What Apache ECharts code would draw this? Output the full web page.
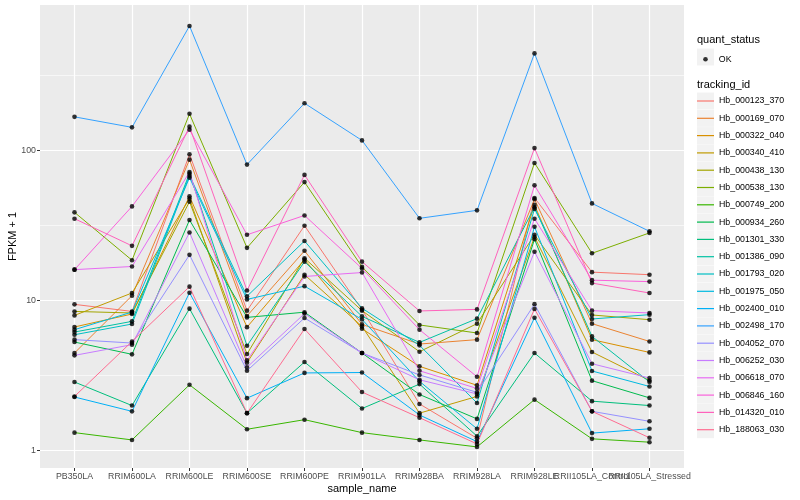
<!DOCTYPE html>
<html><head><meta charset="utf-8">
<script src="https://cdn.jsdelivr.net/npm/echarts@6/dist/echarts.min.js"></script>
<style>html,body{margin:0;padding:0;background:#fff}#c{width:800px;height:500px}</style>
</head><body><div id="c"></div>
<script>
const categories = ['PB350LA','RRIM600LA','RRIM600LE','RRIM600SE','RRIM600PE','RRIM901LA','RRIM928BA','RRIM928LA','RRIM928LE','RRII105LA_Control','RRII105LA_Stressed'];
const trackingIds = ['Hb_000123_370','Hb_000169_070','Hb_000322_040','Hb_000340_410','Hb_000438_130','Hb_000538_130','Hb_000749_200','Hb_000934_260','Hb_001301_330','Hb_001386_090','Hb_001793_020','Hb_001975_050','Hb_002400_010','Hb_002498_170','Hb_004052_070','Hb_006252_030','Hb_006618_070','Hb_006846_160','Hb_014320_010','Hb_188063_030'];
const lineColors = ['#F8766D','#EA8331','#D89000','#C09B00','#A3A500','#7CAE00','#39B600','#00BB4E','#00BF7D','#00C1A3','#00BFC4','#00BAE0','#00B0F6','#35A2FF','#9590FF','#C77CFF','#E76BF3','#FA62DB','#FF62BC','#FF6C91'];
const yTickValues = [1, 10, 100];
const yMinorValues = [3.1623, 31.623, 316.23];

// FPKM + 1 per sample (order of categories)
const Hb_000123_370 = [9.45, 8.48, 94.5, 8.58, 31.6, 8.71, 2.05, 1.21, 48.4, 15.5, 14.9];
const Hb_000169_070 = [4.48, 10.8, 87.1, 7.91, 21.5, 6.95, 5.14, 5.50, 47.5, 7.03, 5.35];
const Hb_000322_040 = [6.68, 8.15, 49.6, 6.66, 18.8, 6.5, 3.65, 2.73, 43.5, 5.50, 4.52];
const Hb_000340_410 = [7.98, 11.25, 47.9, 3.86, 14.9, 6.74, 1.78, 2.30, 26.6, 4.55, 2.94];
const Hb_000438_130 = [8.48, 8.28, 45.7, 4.41, 19.2, 8.58, 4.57, 7.03, 27.5, 8.03, 7.47];
const Hb_000538_130 = [38.8, 18.6, 176, 22.5, 61.7, 16.8, 6.89, 6.09, 82.8, 20.7, 28.3];
const Hb_000749_200 = [1.32, 1.18, 2.75, 1.39, 1.61, 1.32, 1.18, 1.06, 2.19, 1.20, 1.14];
const Hb_000934_260 = [5.30, 4.39, 34.5, 7.74, 8.38, 4.48, 2.37, 1.63, 25.7, 2.93, 2.25];
const Hb_001301_330 = [2.87, 2.00, 8.85, 1.78, 3.90, 1.91, 2.78, 1.25, 4.48, 2.14, 2.00];
const Hb_001386_090 = [6.18, 7.28, 70.5, 5.01, 18.2, 7.86, 5.27, 7.59, 42.0, 5.78, 2.87];
const Hb_001793_020 = [5.93, 6.99, 68.1, 10.7, 25.0, 8.91, 5.04, 2.08, 40.9, 7.55, 8.07];
const Hb_001975_050 = [6.41, 8.4, 66.1, 10.2, 12.5, 7.5, 2.90, 1.40, 31.1, 3.40, 2.68];
const Hb_002400_010 = [2.28, 1.83, 11.3, 2.24, 3.30, 3.32, 1.73, 1.15, 7.7, 1.31, 1.40];
const Hb_002498_170 = [168, 143, 678, 80.7, 207, 117, 35.4, 40, 445, 44.5, 29];
const Hb_004052_070 = [5.50, 5.22, 20.2, 3.41, 7.67, 4.48, 3.20, 2.45, 9.48, 1.83, 1.57];
const Hb_006252_030 = [4.32, 5.09, 28.5, 3.6, 8.2, 4.48, 2.97, 2.39, 21.2, 3.80, 3.05];
const Hb_006618_070 = [16.1, 16.9, 72, 4.0, 14.5, 15.4, 3.41, 2.60, 35.2, 8.58, 8.28];
const Hb_006846_160 = [16.1, 42.5, 138, 27.5, 37.0, 16.4, 6.41, 3.11, 58.7, 13.7, 13.4];
const Hb_014320_010 = [35.2, 23.2, 144.5, 11.7, 68.9, 18.2, 8.54, 8.75, 104, 13.1, 11.25];
const Hb_188063_030 = [2.30, 5.35, 12.4, 1.78, 6.48, 2.46, 1.66, 1.11, 8.81, 1.83, 1.22];

const seriesValues = [Hb_000123_370, Hb_000169_070, Hb_000322_040, Hb_000340_410, Hb_000438_130, Hb_000538_130, Hb_000749_200, Hb_000934_260, Hb_001301_330, Hb_001386_090, Hb_001793_020, Hb_001975_050, Hb_002400_010, Hb_002498_170, Hb_004052_070, Hb_006252_030, Hb_006618_070, Hb_006846_160, Hb_014320_010, Hb_188063_030];

const catIdx = categories.map((_, i) => i);
const evenIdx = catIdx.filter(i => i % 2 === 0);
const oddIdx = catIdx.filter(i => i % 2 === 1);
const FONT = 'Liberation Sans, Arial, Helvetica, sans-serif';

const series = trackingIds.map((id, i) => ({
  name: id, type: 'line', xAxisIndex: 0, yAxisIndex: 0,
  data: seriesValues[i].map((v, j) => [j, v]),
  symbol: 'none', lineStyle: { width: 1, color: lineColors[i] },
  itemStyle: { color: lineColors[i] }, z: 2, silent: true
}));
const pts = [];
seriesValues.forEach(arr => arr.forEach((v, j) => pts.push([j, v])));
series.push({ name: 'OK', type: 'scatter', data: pts, symbol: 'circle', symbolSize: 4.6,
  itemStyle: { color: '#000' }, z: 5, silent: true });

// legend key backgrounds (layout only)
const LEG_LEFT = 697, LEG_TOP = 92.5, KEY = 17, STEP = 17.3;
const keyBoxes = trackingIds.map((_, i) => ({
  type: 'rect', silent: true, z: 1,
  shape: { x: LEG_LEFT, y: LEG_TOP + i * STEP, width: KEY, height: KEY },
  style: { fill: '#F2F2F2' }
}));
keyBoxes.push({ type: 'rect', silent: true, z: 1,
  shape: { x: LEG_LEFT, y: 48.5, width: KEY, height: KEY }, style: { fill: '#F2F2F2' } });

const xLabelBase = { formatter: v => categories[Math.round(v)], color: '#4D4D4D', fontSize: 8.8, margin: 4,
                     hideOverlap: false, showMinLabel: true, showMaxLabel: true, fontFamily: FONT };

const chart = echarts.init(document.getElementById('c'), null, { renderer: 'canvas' });
chart.setOption({
  animation: false,
  textStyle: { fontFamily: FONT },
  grid: { left: 40, right: 116, top: 5, bottom: 32, show: true, backgroundColor: '#EBEBEB', borderWidth: 0,
          containLabel: false, outerBoundsMode: 'none' },
  graphic: keyBoxes,
  title: [
    { text: 'quant_status', left: 697, top: 34, padding: 0, textStyle: { fontSize: 11, fontWeight: 'normal', color: '#000', fontFamily: FONT } },
    { text: 'tracking_id', left: 697, top: 79, padding: 0, textStyle: { fontSize: 11, fontWeight: 'normal', color: '#000', fontFamily: FONT } }
  ],
  xAxis: [
    {
      type: 'value', min: -0.6, max: 10.6, position: 'bottom',
      axisLine: { show: false, onZero: false },
      axisTick: { show: true, customValues: catIdx, length: 3, lineStyle: { color: '#333' } },
      axisLabel: Object.assign({ customValues: evenIdx }, xLabelBase),
      splitLine: { show: true, lineStyle: { color: '#fff', width: 1.2 } },
      name: 'sample_name', nameLocation: 'middle', nameGap: 15, nameMoveOverlap: false,
      nameTextStyle: { fontSize: 11, color: '#000', fontFamily: FONT }
    },
    {
      type: 'value', min: -0.6, max: 10.6, position: 'bottom', offset: 0,
      axisLine: { show: false, onZero: false },
      axisTick: { show: false, customValues: oddIdx },
      axisLabel: Object.assign({ customValues: oddIdx }, xLabelBase),
      splitLine: { show: false }
    }
  ],
  yAxis: [
    {
      type: 'log', logBase: 10, min: 0.767, max: 935,
      axisLine: { show: false, onZero: false },
      axisTick: { show: true, customValues: yTickValues, length: 3, lineStyle: { color: '#333' } },
      axisLabel: { customValues: yTickValues, formatter: v => String(Math.round(v)), color: '#4D4D4D', fontSize: 8.8, margin: 4,
                   showMinLabel: true, showMaxLabel: true, fontFamily: FONT },
      splitLine: { show: true, lineStyle: { color: '#fff', width: 1.2 } },
      name: 'FPKM + 1', nameLocation: 'middle', nameGap: 22, nameMoveOverlap: false,
      nameTextStyle: { fontSize: 11, color: '#000', fontFamily: FONT }
    },
    {
      type: 'log', logBase: 10, min: 0.767, max: 935, position: 'left', offset: 0,
      axisLine: { show: false, onZero: false },
      axisTick: { show: false, customValues: yMinorValues },
      axisLabel: { show: false, customValues: yMinorValues },
      splitLine: { show: true, lineStyle: { color: '#fff', width: 0.6 } }
    }
  ],
  legend: [
    { data: trackingIds, orient: 'vertical', left: LEG_LEFT, top: LEG_TOP, padding: 0, itemWidth: KEY, itemHeight: KEY, itemGap: STEP - KEY,
      icon: 'path://M0,0H17V1.2H0Z', selectedMode: false, z: 6,
      textStyle: { fontSize: 8.8, color: '#000', fontFamily: FONT, lineHeight: KEY } },
    { data: ['OK'], orient: 'vertical', left: 703.2, top: 54.7, padding: 0, itemWidth: 4.6, itemHeight: 4.6,
      icon: 'circle', itemStyle: { color: '#000' }, selectedMode: false, z: 6,
      textStyle: { fontSize: 8.8, color: '#000', fontFamily: FONT, padding: [0, 0, 0, 6] } }
  ],
  series: series
});
</script>
</body></html>
